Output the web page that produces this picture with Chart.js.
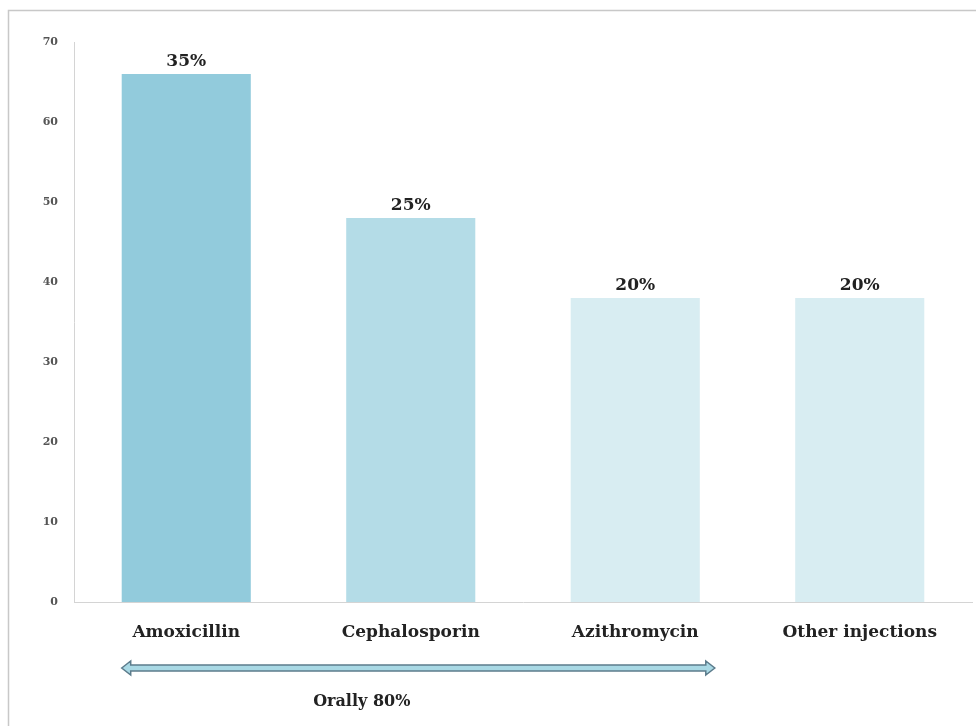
<!DOCTYPE html>
<html>
<head>
<meta charset="utf-8">
<script src="https://cdn.jsdelivr.net/npm/chart.js@4.4.1/dist/chart.umd.min.js"></script>
<style>
  html, body { margin: 0; padding: 0; background: #fff; }
  #wrap { width: 976px; height: 726px; position: relative; }
</style>
</head>
<body>
<div id="wrap"><canvas id="chart" width="976" height="726"></canvas></div>
<script>
// data
const categories = ['Amoxicillin', 'Cephalosporin', 'Azithromycin', 'Other injections'];
const counts = [66, 48, 38, 38];
const shareLabels = ['35%', '25%', '20%', '20%'];
const barColors = ['#92CBDC', '#B4DCE7', '#D8EDF2', '#D8EDF2'];
const yTicks = [0, 10, 20, 30, 40, 50, 60, 70];
const oralLabel = 'Orally 80%';
const oralCount = 3; // first three categories are oral

const serif = '"DejaVu Serif", "Liberation Serif", serif';

// frame, percent labels, arrow and caption
const extras = {
  id: 'extras',
  beforeDraw(chart) {
    const ctx = chart.ctx;
    ctx.save();
    ctx.strokeStyle = '#c8c8c8';
    ctx.lineWidth = 1.5;
    ctx.beginPath();
    ctx.moveTo(8.5, 726);
    ctx.lineTo(8.5, 10.5);
    ctx.lineTo(976, 10.5);
    ctx.stroke();
    ctx.restore();
  },
  afterDatasetsDraw(chart) {
    const ctx = chart.ctx;
    const meta = chart.getDatasetMeta(0);
    ctx.save();
    ctx.font = 'bold 17px ' + serif;
    ctx.fillStyle = '#222';
    ctx.textAlign = 'center';
    ctx.textBaseline = 'bottom';
    meta.data.forEach((bar, i) => {
      ctx.fillText(shareLabels[i], bar.x, bar.y - 4);
    });

    // double arrow under the oral drugs
    const first = meta.data[0];
    const last = meta.data[oralCount - 1];
    const x1 = first.x - first.width / 2;
    const x2 = last.x + last.width / 2 + 15;
    const yc = 668;
    const sh = 3, hh = 7, hl = 9;
    ctx.beginPath();
    ctx.moveTo(x1, yc);
    ctx.lineTo(x1 + hl, yc - hh);
    ctx.lineTo(x1 + hl, yc - sh);
    ctx.lineTo(x2 - hl, yc - sh);
    ctx.lineTo(x2 - hl, yc - hh);
    ctx.lineTo(x2, yc);
    ctx.lineTo(x2 - hl, yc + hh);
    ctx.lineTo(x2 - hl, yc + sh);
    ctx.lineTo(x1 + hl, yc + sh);
    ctx.lineTo(x1 + hl, yc + hh);
    ctx.closePath();
    ctx.fillStyle = '#A9D9E5';
    ctx.fill();
    ctx.strokeStyle = '#5C7C8C';
    ctx.lineWidth = 1.5;
    ctx.stroke();

    // caption sits a little left of the second category
    ctx.font = 'bold 16px ' + serif;
    ctx.textBaseline = 'middle';
    ctx.fillStyle = '#222';
    ctx.fillText(oralLabel, meta.data[1].x - 49, 702);
    ctx.restore();
  }
};

new Chart(document.getElementById('chart'), {
  type: 'bar',
  data: {
    labels: categories,
    datasets: [{
      data: counts,
      backgroundColor: barColors,
      borderWidth: 0,
      categoryPercentage: 1,
      barPercentage: 0.575
    }]
  },
  options: {
    responsive: false,
    animation: false,
    layout: { padding: { left: 8, right: 4, top: 42, bottom: 0 } },
    plugins: {
      legend: { display: false },
      tooltip: { enabled: false }
    },
    scales: {
      x: {
        grid: { display: false, drawTicks: false },
        border: { display: true, color: '#d4d4d4', width: 1 },
        ticks: {
          color: '#222',
          font: { family: serif, size: 17, weight: 'bold' },
          padding: 20,
          maxRotation: 0
        },
        afterFit(scale) { scale.height = 124; }
      },
      y: {
        min: 0,
        max: 70,
        grid: { display: false, drawTicks: false },
        border: { display: true, color: '#d4d4d4', width: 1 },
        afterBuildTicks(scale) { scale.ticks = yTicks.map(v => ({ value: v })); },
        ticks: {
          color: '#555',
          font: { family: serif, size: 11, weight: 'bold' },
          padding: 16
        },
        afterFit(scale) { scale.width = 66; }
      }
    }
  },
  plugins: [extras]
});
</script>
</body>
</html>
